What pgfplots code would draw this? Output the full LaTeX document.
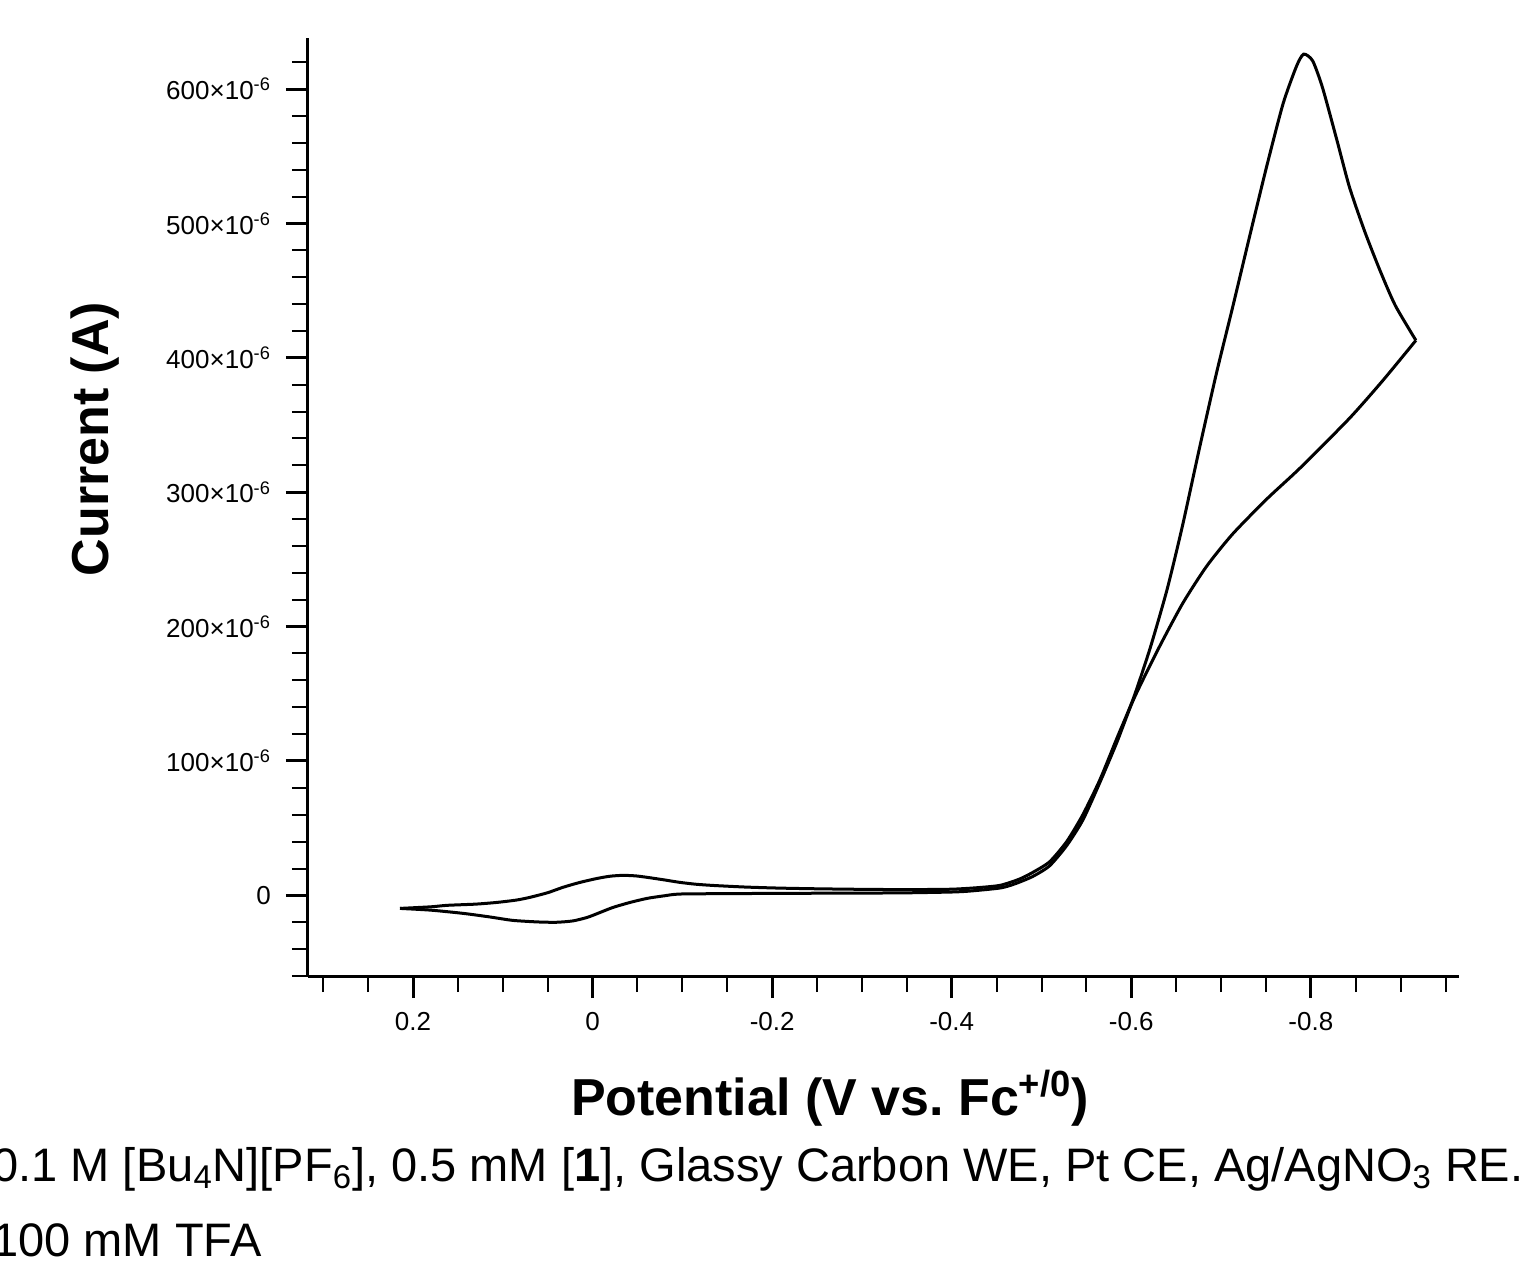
\documentclass[border=0pt]{standalone}
\usepackage{fontspec}
\setmainfont{Liberation Sans}
\usepackage{pgfplots}
\pgfplotsset{compat=1.18}
\frenchspacing

% forward scan (left vertex -> right vertex), current in microamps
\pgfplotstableread{
E I
0.2145 -9.7
0.18 -8.5
0.162 -7.4
0.13 -6.5
0.106 -5.2
0.085 -3.5
0.070 -1.5
0.050 2.0
0.033 6.0
0.015 9.5
-0.005 12.6
-0.020 14.3
-0.034 14.9
-0.048 14.5
-0.061 13.4
-0.080 11.5
-0.097 9.7
-0.115 8.3
-0.134 7.4
-0.17 6.2
-0.209 5.4
-0.25 4.9
-0.30 4.5
-0.35 4.3
-0.40 4.6
-0.43 5.8
-0.454 7.5
-0.475 12
-0.490 17
-0.509 25
-0.528 40
-0.546 60
-0.565 86
-0.584 117
-0.602 146
-0.621 184
-0.640 228
-0.657 275
-0.676 333
-0.695 389
-0.713 438
-0.732 491
-0.751 543
-0.769 589
-0.784 617
-0.792 626
-0.802 621
-0.813 601
-0.829 562
-0.843 527
-0.860 494
-0.877 465
-0.894 439
-0.917 413
}\fwd

% return scan (right vertex -> left vertex)
\pgfplotstableread{
E I
-0.917 413
-0.880 383
-0.843 355
-0.788 318
-0.751 295
-0.713 269
-0.684 245
-0.657 217
-0.629 182
-0.602 145
-0.584 114
-0.565 84
-0.546 56
-0.528 37
-0.509 22
-0.490 14
-0.470 8.5
-0.454 5.5
-0.42 3.2
-0.40 2.5
-0.35 1.9
-0.30 1.7
-0.25 1.6
-0.209 1.5
-0.15 1.3
-0.097 1.0
-0.08 -0.3
-0.061 -2.2
-0.042 -5.2
-0.023 -8.9
-0.008 -12.8
0.006 -16.4
0.022 -19.0
0.040 -20.0
0.060 -19.8
0.089 -18.6
0.115 -16.0
0.144 -13.4
0.18 -11.0
0.2145 -9.7
}\rev

\begin{document}
\begin{tikzpicture}
\begin{axis}[
  name=cv,
  scale only axis,
  width=575.5pt, height=469pt,
  x dir=reverse,
  xmin=-0.965, xmax=0.317,
  ymin=-60, ymax=638,
  enlargelimits=false,
  axis lines=left,
  axis line style={-, line width=1.5pt},
  tick align=outside,
  xtick={-0.8,-0.6,-0.4,-0.2,0,0.2},
  xticklabels={-0.8,-0.6,-0.4,-0.2,0,0.2},
  minor xtick={-0.95,-0.9,...,0.3},
  ytick={0,100,...,600},
  yticklabels={0,100×10\textsuperscript{-6},200×10\textsuperscript{-6},300×10\textsuperscript{-6},400×10\textsuperscript{-6},500×10\textsuperscript{-6},600×10\textsuperscript{-6}},
  minor ytick={-60,-40,...,620},
  major tick length=11pt,
  minor tick length=8pt,
  major tick style={black, line width=1.5pt},
  minor tick style={black, line width=1pt},
  tick label style={font=\fontsize{13}{15}\selectfont},
  xticklabel style={yshift=-3.5pt},
  yticklabel style={xshift=-4pt},
  xlabel={\fontsize{26}{30}\selectfont\bfseries Potential (V vs. Fc\textsuperscript{+/0})},
  xlabel style={at={(axis description cs:0.4535,0)}, anchor=base, yshift=-69.5pt},
  ylabel={\fontsize{26}{30}\selectfont\bfseries Current (A)},
  ylabel style={at={(axis description cs:0,0.5725)}, anchor=base, yshift=99.5pt},
]
\addplot[black, line width=1.5pt, smooth, tension=0.4] table[x=E, y=I] {\fwd};
\addplot[black, line width=1.5pt, smooth, tension=0.4] table[x=E, y=I] {\rev};
\end{axis}
\node[anchor=base west, inner sep=0pt, font=\fontsize{23.5}{28}\selectfont]
  at ([shift={(-158pt,-102.5pt)}]cv.south west)
  {0.1 M [Bu\textsubscript{4}N][PF\textsubscript{6}], 0.5 mM [\textbf{1}], Glassy Carbon WE, Pt CE, Ag/AgNO\textsubscript{3} RE.};
\node[anchor=base west, inner sep=0pt, font=\fontsize{23.5}{28}\selectfont]
  at ([shift={(-158pt,-140pt)}]cv.south west) {100 mM TFA};
\pgfresetboundingbox
\path[use as bounding box] ([shift={(-154pt,-142pt)}]cv.south west) rectangle ([shift={(611pt,488pt)}]cv.south west);
\end{tikzpicture}
\end{document}
